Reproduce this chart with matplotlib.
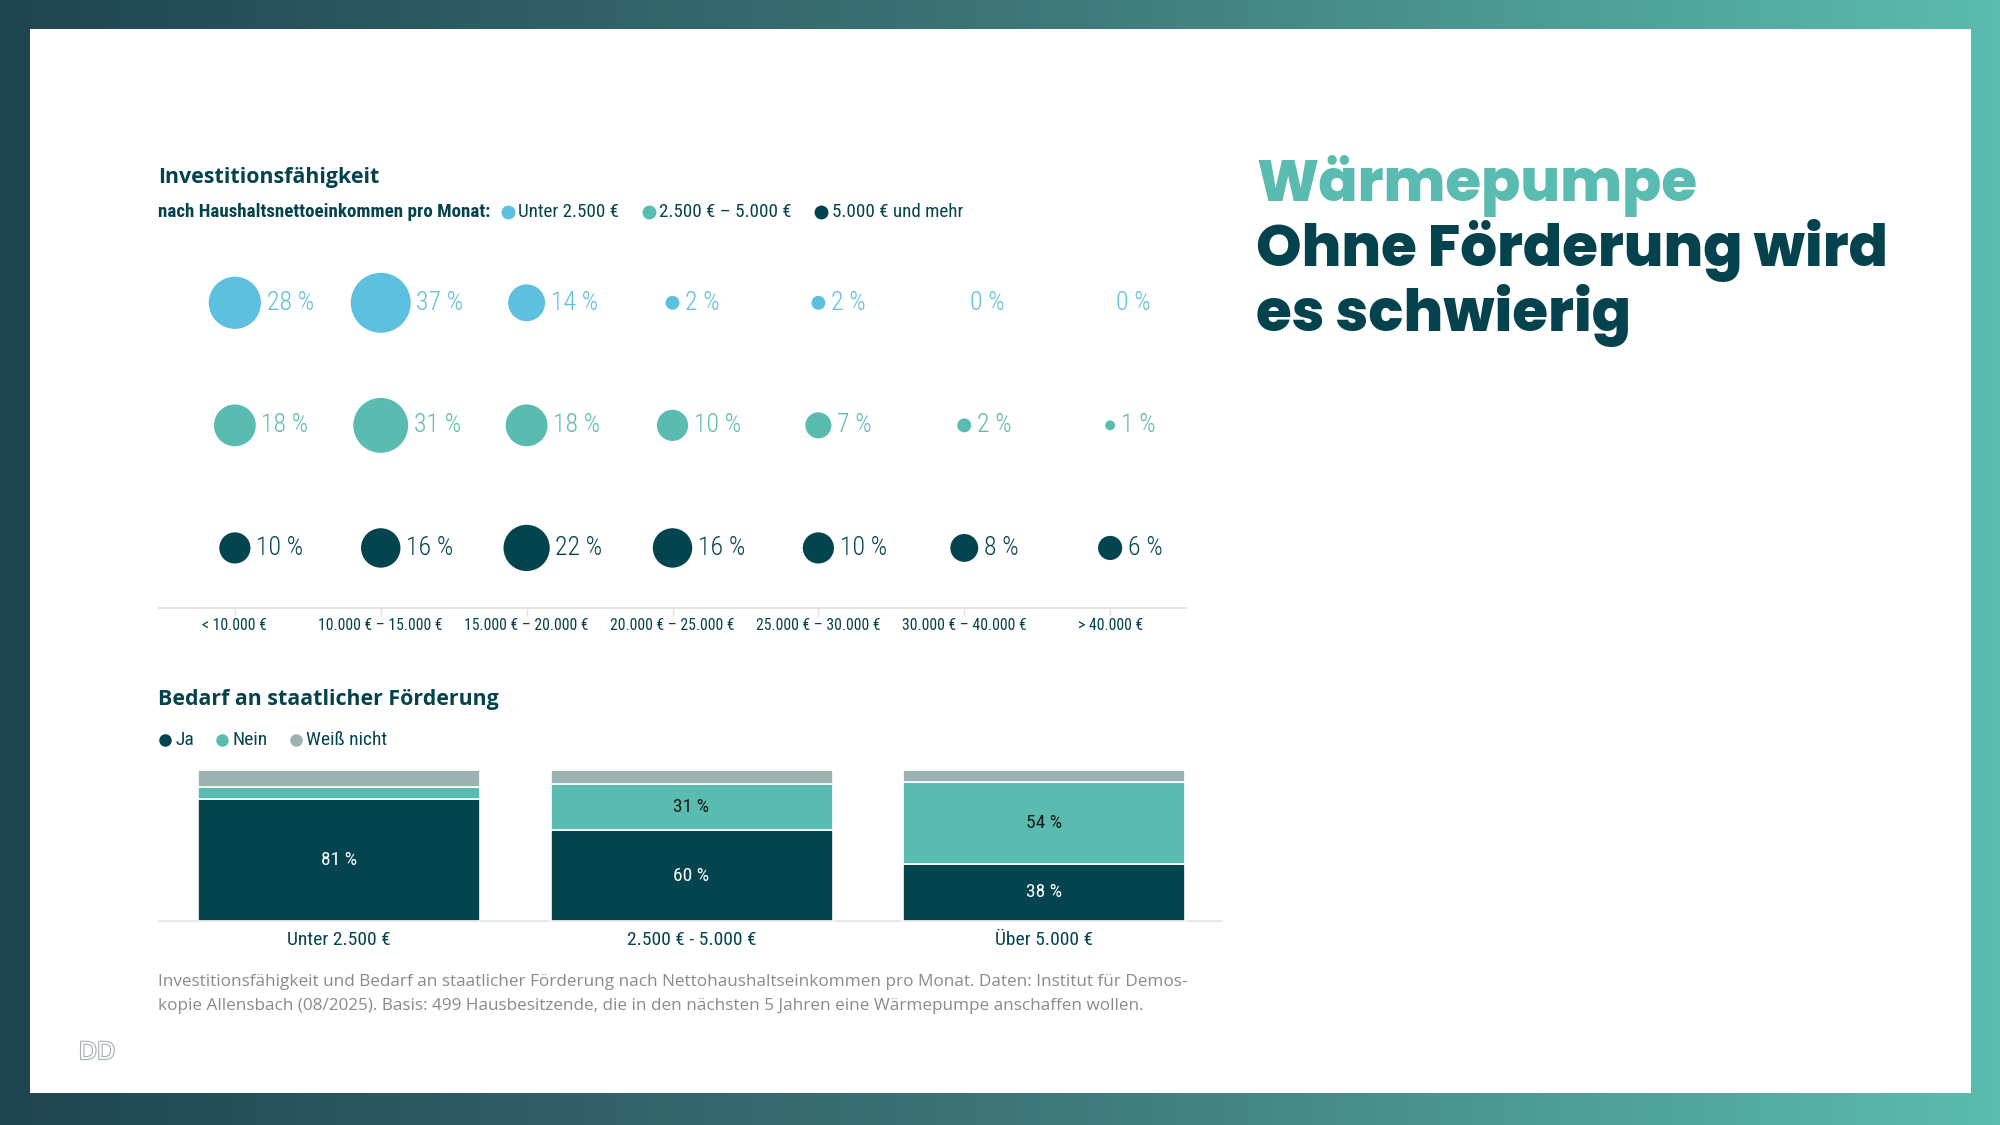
import matplotlib
matplotlib.use("Agg")
import matplotlib.pyplot as plt
import matplotlib.font_manager as fm
import matplotlib.patheffects as pe
from matplotlib.patches import Rectangle
from matplotlib.colors import LinearSegmentedColormap
import numpy as np

# ---------------- data ----------------
income_groups = ["< 10.000 €", "10.000 € – 15.000 €", "15.000 € – 20.000 €",
                 "20.000 € – 25.000 €", "25.000 € – 30.000 €", "30.000 € – 40.000 €",
                 "> 40.000 €"]
series_names = ["Unter 2.500 €", "2.500 € – 5.000 €", "5.000 € und mehr"]
invest_unter_2500 = [28, 37, 14, 2, 2, 0, 0]
invest_2500_5000 = [18, 31, 18, 10, 7, 2, 1]
invest_ueber_5000 = [10, 16, 22, 16, 10, 8, 6]

bar_categories = ["Unter 2.500 €", "2.500 € - 5.000 €", "Über 5.000 €"]
bar_legend = ["Ja", "Nein", "Weiß nicht"]
bedarf_ja = [81, 60, 38]
bedarf_nein = [8, 31, 54]
bedarf_weiss_nicht = [11, 9, 8]

# ---------------- style ----------------
C_LIGHT = "#5cc0de"
C_TEAL = "#5abcb1"
C_DARK = "#03444f"
C_GRAY = "#9bb2b0"
C_TITLE = "#04434e"
C_FOOT = "#8a8a8a"

avail = {f.name for f in fm.fontManager.ttflist}
def pick(*names):
    for n in names:
        if n in avail:
            return n
    return "DejaVu Sans"

COND = pick("Roboto Condensed", "Liberation Sans Narrow", "Roboto")
SANS = pick("Open Sans", "Lato", "Noto Sans")
HEAD = pick("Poppins", "Inter", "Lato")

W, H = 2000, 1125
fig = plt.figure(figsize=(20, 11.25), dpi=100)

def rect(l, t, r, b):
    return [l / W, 1 - b / H, (r - l) / W, (b - t) / H]

# ---------------- background ----------------
bg = fig.add_axes([0, 0, 1, 1], zorder=0)
bg.set_xlim(0, W)
bg.set_ylim(H, 0)
bg.axis("off")
cmap = LinearSegmentedColormap.from_list("g", ["#1f4550", "#3d7577", "#5bbcb0"])
grad = np.linspace(0, 1, 512)[None, :]
bg.imshow(grad, cmap=cmap, extent=(0, W, H, 0), aspect="auto", zorder=0)
bg.add_patch(Rectangle((30, 29), 1941, 1064, facecolor="white", edgecolor="none", zorder=1))

# ---------------- big title ----------------
TS = 41.7
bg.text(1256, 201, "Wärmepumpe", family=HEAD, fontweight="heavy", fontsize=TS,
        color=C_TEAL, va="baseline", ha="left", zorder=3)
bg.text(1256, 266, "Ohne Förderung wird", family=HEAD, fontweight="heavy", fontsize=TS,
        color=C_TITLE, va="baseline", ha="left", zorder=3)
bg.text(1256, 331, "es schwierig", family=HEAD, fontweight="heavy", fontsize=TS,
        color=C_TITLE, va="baseline", ha="left", zorder=3)

# ---------------- bubble chart headings ----------------
bg.text(158, 177, "Investitionsfähigkeit", family=SANS, fontweight="bold", fontsize=15.4,
        color=C_TITLE, va="center", ha="left", zorder=3)
bg.text(158, 212, "nach Haushaltsnettoeinkommen pro Monat:", family=COND, fontweight="bold",
        fontsize=13.7, color=C_TITLE, va="center", ha="left", zorder=3)
leg_pos = [(508, 518), (649, 659), (821, 832)]
for (dx, tx), name, col in zip(leg_pos, series_names, [C_LIGHT, C_TEAL, C_DARK]):
    bg.plot([dx], [212], "o", ms=10, color=col, mec="none", zorder=3)
    bg.text(tx, 212, name, family=COND, fontsize=13.7, color=C_TITLE,
            va="center", ha="left", zorder=3)

# ---------------- bubble chart ----------------
ax = fig.add_axes(rect(159, 217, 1186, 608), zorder=2)
ax.patch.set_alpha(0)
K = 50.4
rows = [(2, invest_unter_2500, C_LIGHT), (1, invest_2500_5000, C_TEAL), (0, invest_ueber_5000, C_DARK)]
xs = np.arange(len(income_groups))
for yrow, vals, col in rows:
    sizes = [v * K for v in vals]
    ax.scatter(xs, [yrow] * len(xs), s=sizes, color=col, linewidths=0, zorder=3)
    for x, v, s in zip(xs, vals, sizes):
        r = np.sqrt(s) / 2
        ax.annotate(f"{v} %", xy=(x, yrow), xytext=(r + 4.0, 0), textcoords="offset points",
                    va="center", ha="left", fontsize=18.5, fontweight="light",
                    family=COND, color=col)
ax.set_xlim(-0.52, 6.52)
ax.set_ylim(-0.49, 2.7)
for s in ["top", "left", "right"]:
    ax.spines[s].set_visible(False)
ax.spines["bottom"].set_color("#e3e3e3")
ax.spines["bottom"].set_linewidth(1.5)
ax.set_yticks([])
ax.set_xticks(xs)
ax.set_xticklabels(income_groups, family=COND, fontsize=11.3, color=C_TITLE)
ax.tick_params(axis="x", length=6, width=1, color="#e3e3e3", pad=1.5)

# ---------------- bar chart headings ----------------
bg.text(158, 699, "Bedarf an staatlicher Förderung", family=SANS, fontweight="bold", fontsize=15.4,
        color=C_TITLE, va="center", ha="left", zorder=3)
bl_pos = [(165, 175), (222, 232), (296, 306)]
for (dx, tx), name, col in zip(bl_pos, bar_legend, [C_DARK, C_TEAL, C_GRAY]):
    bg.plot([dx], [740], "o", ms=9, color=col, mec="none", zorder=3)
    bg.text(tx, 740, name, family=COND, fontsize=14, color=C_TITLE,
            va="center", ha="left", zorder=3)

# ---------------- stacked bars ----------------
bx = fig.add_axes(rect(159, 770, 1222, 921), zorder=2)
bx.patch.set_alpha(0)
bxs = np.arange(len(bar_categories))
ja = np.array(bedarf_ja)
nein = np.array(bedarf_nein)
wn = np.array(bedarf_weiss_nicht)
bx.bar(bxs, ja, width=0.8, color=C_DARK, edgecolor="white", linewidth=1.2, zorder=3)
bx.bar(bxs, nein, bottom=ja, width=0.8, color=C_TEAL, edgecolor="white", linewidth=1.2, zorder=3)
bx.bar(bxs, wn, bottom=ja + nein, width=0.8, color=C_GRAY, edgecolor="white", linewidth=1.2, zorder=3)
for x, j, n in zip(bxs, ja, nein):
    bx.text(x, j / 2, f"{j} %", ha="center", va="center", color="white",
            family=COND, fontsize=14, zorder=4)
    if n >= 15:
        bx.text(x, j + n / 2, f"{n} %", ha="center", va="center", color="#1b1b1b",
                family=COND, fontsize=14, zorder=4)
bx.set_xlim(-0.511, 2.505)
bx.set_ylim(0, 100)
for s in ["top", "left", "right"]:
    bx.spines[s].set_visible(False)
bx.spines["bottom"].set_color("#e8e8e8")
bx.spines["bottom"].set_linewidth(1.5)
bx.set_yticks([])
bx.set_xticks(bxs)
bx.set_xticklabels(bar_categories, family=COND, fontsize=14, color=C_TITLE)
bx.tick_params(axis="x", length=0, pad=7.5)

# ---------------- footnote ----------------
bg.text(158, 981.5, "Investitionsfähigkeit und Bedarf an staatlicher Förderung nach Nettohaushaltseinkommen pro Monat. Daten: Institut für Demos-",
        family=SANS, fontsize=12.3, color=C_FOOT, va="center", ha="left", zorder=3)
bg.text(158, 1006.5, "kopie Allensbach (08/2025). Basis: 499 Hausbesitzende, die in den nächsten 5 Jahren eine Wärmepumpe anschaffen wollen.",
        family=SANS, fontsize=12.3, color=C_FOOT, va="center", ha="left", zorder=3)

# ---------------- logo ----------------
bg.text(97, 1052, "DD", family="DejaVu Sans", fontsize=17, color="white", va="center", ha="center",
        zorder=3, path_effects=[pe.withStroke(linewidth=1.6, foreground="#a3b0b1")])

fig.savefig("out.png", dpi=100)
